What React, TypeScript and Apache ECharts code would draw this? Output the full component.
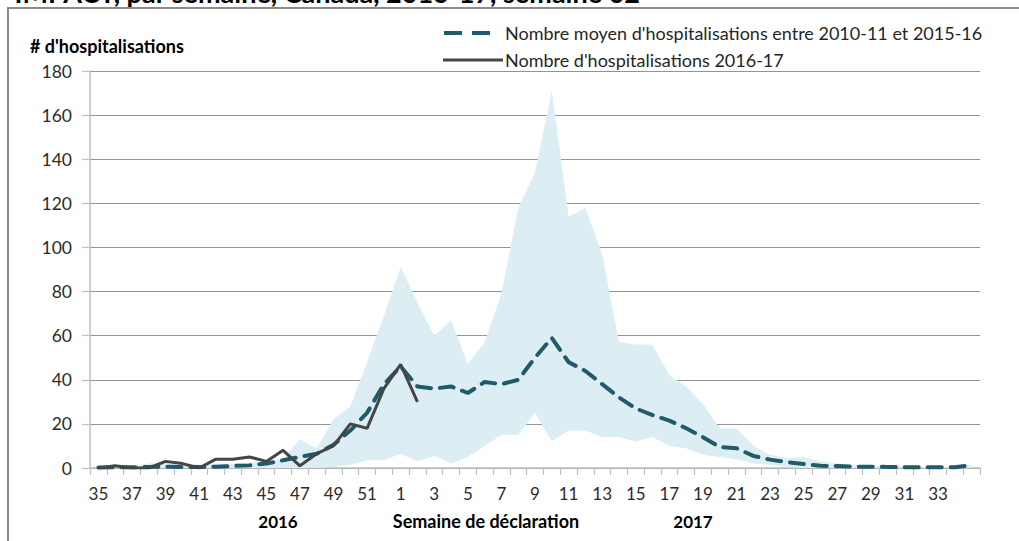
import React, { useEffect, useRef } from "react";
import * as echarts from "echarts";

const weeks: string[] = [
  "35", "36", "37", "38", "39", "40", "41", "42", "43", "44", "45", "46", "47", "48", "49", "50", "51", "52",
  "1", "2", "3", "4", "5", "6", "7", "8", "9", "10", "11", "12", "13", "14", "15", "16", "17", "18", "19", "20",
  "21", "22", "23", "24", "25", "26", "27", "28", "29", "30", "31", "32", "33", "34", "35",
];

const bandMax: number[] = [
  0.5, 1, 1, 2, 2.5, 2.5, 1.5, 2, 2, 2.5, 3, 4, 13, 9, 22, 28, 48, 69,
  91, 75, 60, 67, 47, 57, 79, 118, 134, 171, 114, 118, 97, 57, 56, 56, 42, 37, 29, 18,
  18, 10, 6, 4.5, 5, 3, 2, 1.5, 1, 1, 1, 0.7, 0.7, 0.7, 1.5,
];

const bandMin: number[] = [
  0, 0, 0, 0, 0, 0, 0, 0, 0, 0, 0, 0, 0, 0, 0.5, 1.5, 3.5, 3.5,
  6.5, 3, 5.5, 2, 5, 10, 15, 15, 25, 12, 17, 17, 14, 14, 12, 14, 10, 9, 6, 5,
  4, 2, 1.5, 0.5, 0, 0, 0, 0, 0, 0, 0, 0, 0, 0, 0,
];

const meanHosp: number[] = [
  0.2, 0.3, 0.3, 0.5, 0.6, 0.5, 0.4, 0.6, 0.9, 1.2, 2, 3.5, 5, 6.5, 10.5, 17, 25, 38,
  46, 37, 36, 37, 34, 39, 38, 40, 50, 59, 48, 44, 38, 32, 27, 24, 21.5, 18, 14, 9.5,
  9, 5.5, 3.8, 2.7, 1.8, 1, 0.9, 0.6, 0.6, 0.5, 0.3, 0.3, 0.3, 0.3, 1.3,
];

const hosp201617: (number | null)[] = [
  0, 1, 0, 0, 3, 2, 0, 4, 4, 5, 3, 8, 1, 6.5, 10, 20, 18, 36,
  47, 30,
];

const yTicks = { min: 0, max: 180, interval: 20 };

const labelMean = "Nombre moyen d'hospitalisations entre 2010-11 et 2015-16";
const labelCurrent = "Nombre d'hospitalisations 2016-17";
const yTitle = "# d'hospitalisations";
const xTitle = "Semaine de déclaration";
const year1 = "2016";
const year2 = "2017";
const titleText = "IMPACT, par semaine, Canada, 2016-17, semaine 02";

const FONT = "Lato, 'Open Sans', sans-serif";

export default function App() {
  const ref = useRef<HTMLDivElement>(null);

  useEffect(() => {
    if (!ref.current) return;
    const chart = echarts.init(ref.current, undefined, { renderer: "svg" });
    const range = bandMax.map((v, i) => +(v - bandMin[i]).toFixed(2));
    const current = weeks.map((_, i) => (i < hosp201617.length ? hosp201617[i] : null));

    chart.setOption({
      animation: false,
      backgroundColor: "#ffffff",
      textStyle: { fontFamily: FONT },
      grid: { left: 90, top: 71, width: 890, height: 397, containLabel: false },
      xAxis: {
        type: "category",
        data: weeks,
        boundaryGap: true,
        axisLine: { lineStyle: { color: "#bfbfbf", width: 1.5 } },
        axisTick: { show: true, interval: 0, length: 7, lineStyle: { color: "#bfbfbf", width: 1.2 } },
        axisLabel: {
          interval: (index: number) => index % 2 === 0 && index < weeks.length - 1,
          color: "#2b2b2b",
          fontSize: 17,
          fontFamily: FONT,
          margin: 17,
        },
        splitLine: { show: false },
      },
      yAxis: {
        type: "value",
        min: yTicks.min,
        max: yTicks.max,
        interval: yTicks.interval,
        axisLine: { show: true, lineStyle: { color: "#bfbfbf", width: 1.5 } },
        axisTick: { show: true, length: 8, lineStyle: { color: "#bfbfbf", width: 1.2 } },
        axisLabel: { color: "#2b2b2b", fontSize: 17.5, fontFamily: FONT, margin: 18 },
        splitLine: { show: true, lineStyle: { color: "#949494", width: 1.2 } },
      },
      series: [
        {
          name: "min",
          type: "line",
          stack: "band",
          data: bandMin,
          symbol: "none",
          lineStyle: { opacity: 0, width: 0 },
          areaStyle: { opacity: 0 },
          silent: true,
          z: 1,
        },
        {
          name: "range",
          type: "line",
          stack: "band",
          data: range,
          symbol: "none",
          lineStyle: { opacity: 0, width: 0 },
          areaStyle: { color: "#dceef4", opacity: 1 },
          silent: true,
          z: 1,
        },
        {
          name: labelMean,
          type: "line",
          data: meanHosp,
          symbol: "none",
          lineStyle: { color: "#1f5b6a", width: 4, type: [14, 9], cap: "round" },
          z: 3,
        },
        {
          name: labelCurrent,
          type: "line",
          data: current,
          symbol: "none",
          connectNulls: false,
          lineStyle: { color: "#454545", width: 3 },
          z: 4,
        },
      ],
      graphic: [
        {
          type: "rect",
          shape: { x: 8, y: 8, width: 1100, height: 600 },
          style: { fill: "none", stroke: "#8a8a8a", lineWidth: 2 },
          silent: true,
        },
        {
          type: "text",
          x: 640,
          y: 6,
          style: {
            text: titleText,
            fill: "#000000",
            font: `bold 27px ${FONT}`,
            textAlign: "right",
            textVerticalAlign: "bottom",
          },
        },
        {
          type: "text",
          x: 30,
          y: 46,
          style: {
            text: yTitle,
            fill: "#000000",
            font: `bold 18px ${FONT}`,
            textAlign: "left",
            textVerticalAlign: "middle",
          },
        },
        {
          type: "line",
          shape: { x1: 444, y1: 33, x2: 490, y2: 33 },
          style: { stroke: "#1f5b6a", lineWidth: 4, lineDash: [18, 10] },
        },
        {
          type: "text",
          x: 505,
          y: 33,
          style: {
            text: labelMean,
            fill: "#262626",
            font: `18px ${FONT}`,
            textAlign: "left",
            textVerticalAlign: "middle",
          },
        },
        {
          type: "line",
          shape: { x1: 443, y1: 60, x2: 503, y2: 60 },
          style: { stroke: "#454545", lineWidth: 3 },
        },
        {
          type: "text",
          x: 505,
          y: 60,
          style: {
            text: labelCurrent,
            fill: "#262626",
            font: `18px ${FONT}`,
            textAlign: "left",
            textVerticalAlign: "middle",
          },
        },
        {
          type: "text",
          x: 278,
          y: 521,
          style: {
            text: year1,
            fill: "#000000",
            font: `bold 17px ${FONT}`,
            textAlign: "center",
            textVerticalAlign: "middle",
          },
        },
        {
          type: "text",
          x: 486,
          y: 521,
          style: {
            text: xTitle,
            fill: "#000000",
            font: `bold 18px ${FONT}`,
            textAlign: "center",
            textVerticalAlign: "middle",
          },
        },
        {
          type: "text",
          x: 693,
          y: 521,
          style: {
            text: year2,
            fill: "#000000",
            font: `bold 17px ${FONT}`,
            textAlign: "center",
            textVerticalAlign: "middle",
          },
        },
      ],
    });

    return () => {
      chart.dispose();
    };
  }, []);

  return (
    <div
      ref={ref}
      style={{ position: "fixed", left: 0, top: 0, width: 1019, height: 541, background: "#fff" }}
    />
  );
}
